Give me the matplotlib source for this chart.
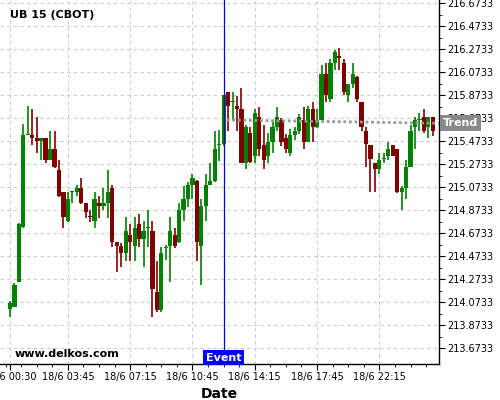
import numpy as np
import matplotlib
matplotlib.use("Agg")
import matplotlib.pyplot as plt
from matplotlib.ticker import FixedLocator

# 15-minute candles, index 0 = 18/6 00:30
opens = [214.014, 214.037, 214.254, 214.727, 215.530, 215.530, 215.506, 215.475, 215.506, 215.315,
         215.408, 215.225, 215.034, 214.785, 215.037, 215.037, 215.069, 214.941, 214.825, 214.785,
         214.941, 214.915, 214.941, 215.069, 214.602, 214.567, 214.506, 214.660, 214.567, 214.753,
         214.628, 214.724, 214.695, 214.162, 214.008, 214.545, 214.567, 214.660, 214.602, 214.878,
         214.971, 215.095, 215.130, 214.567, 214.912, 215.095, 215.130, 215.445, 215.449, 215.901,
         215.819, 215.782, 215.756, 215.289, 215.545, 215.350, 215.686, 215.440, 215.350, 215.472,
         215.597, 215.660, 215.504, 215.376, 215.532, 215.565, 215.660, 215.472, 215.753, 215.602,
         215.660, 216.060, 215.843, 216.153, 216.219, 216.153, 215.880, 215.973, 216.032, 215.817,
         215.565, 215.443, 215.284, 215.232, 215.319, 215.350, 215.443, 215.408, 215.037, 215.072,
         215.254, 215.602, 215.663, 215.686, 215.602, 215.686]
highs = [214.089, 214.245, 214.762, 215.623, 215.782, 215.753, 215.684, 215.506, 215.506, 215.565,
         215.565, 215.310, 215.034, 215.032, 215.043, 215.095, 215.153, 214.941, 214.878, 215.032,
         214.999, 215.072, 215.223, 215.095, 214.602, 214.593, 214.814, 214.753, 214.814, 214.843,
         214.782, 214.875, 214.782, 214.437, 214.558, 214.573, 214.814, 214.718, 214.936, 215.089,
         215.124, 215.188, 215.139, 214.971, 215.188, 215.286, 215.565, 215.573, 215.878, 215.901,
         215.901, 215.872, 215.936, 215.617, 215.597, 215.753, 215.776, 215.617, 215.545, 215.660,
         215.776, 215.680, 215.536, 215.579, 215.597, 215.712, 215.776, 215.782, 215.814, 215.756,
         216.138, 216.153, 216.188, 216.269, 216.284, 216.188, 215.973, 216.153, 216.043, 215.817,
         215.597, 215.443, 215.284, 215.371, 215.371, 215.472, 215.443, 215.408, 215.089, 215.312,
         215.617, 215.684, 215.718, 215.753, 215.686, 215.686]
lows = [213.945, 214.031, 214.249, 214.718, 215.527, 215.443, 215.371, 215.312, 215.284, 215.310,
        215.245, 214.993, 214.718, 214.776, 214.936, 215.002, 214.930, 214.811, 214.776, 214.718,
        214.811, 214.878, 214.811, 214.558, 214.341, 214.379, 214.437, 214.437, 214.437, 214.558,
        214.379, 214.558, 213.945, 213.993, 213.993, 214.443, 214.249, 214.545, 214.588, 214.782,
        214.906, 214.971, 214.437, 214.225, 214.782, 215.095, 215.124, 215.306, 215.434, 215.565,
        215.660, 215.565, 215.289, 215.232, 215.289, 215.289, 215.350, 215.232, 215.289, 215.371,
        215.565, 215.434, 215.371, 215.347, 215.486, 215.536, 215.411, 215.472, 215.472, 215.591,
        215.660, 215.819, 215.814, 216.095, 216.095, 215.878, 215.814, 215.936, 215.814, 215.565,
        215.252, 215.032, 215.032, 215.191, 215.284, 215.312, 215.350, 215.023, 214.878, 214.973,
        215.254, 215.405, 215.565, 215.550, 215.501, 215.524]
closes = [214.066, 214.225, 214.756, 215.530, 215.539, 215.506, 215.475, 215.506, 215.315, 215.408,
          215.254, 215.002, 214.819, 214.973, 215.043, 215.069, 214.941, 214.858, 214.819, 214.973,
          214.915, 214.941, 215.034, 214.602, 214.567, 214.506, 214.695, 214.602, 214.721, 214.628,
          214.695, 214.727, 214.191, 214.008, 214.504, 214.547, 214.695, 214.567, 214.878, 214.971,
          215.095, 215.153, 214.602, 214.912, 215.095, 215.130, 215.408, 215.449, 215.878, 215.785,
          215.823, 215.756, 215.289, 215.597, 215.298, 215.718, 215.411, 215.312, 215.472, 215.597,
          215.686, 215.472, 215.411, 215.527, 215.565, 215.686, 215.472, 215.753, 215.602, 215.660,
          216.060, 215.878, 216.153, 216.249, 216.197, 215.906, 215.973, 216.060, 215.845, 215.602,
          215.449, 215.319, 215.232, 215.312, 215.321, 215.408, 215.350, 215.037, 215.072, 215.254,
          215.565, 215.660, 215.666, 215.565, 215.686, 215.565]

tick_pos = [0, 13, 27, 41, 55, 69, 83]
tick_labels = ["18/6 00:30", "18/6 03:45", "18/6 07:15", "18/6 10:45",
               "18/6 14:15", "18/6 17:45", "18/6 22:15"]
y_ticks = [213.6733 + 0.2 * k for k in range(16)]

event_idx = 48
trend_x = [48.7, 96.4]
trend_y = [215.660, 215.632]

fig = plt.figure(figsize=(5, 4), dpi=100)
ax = fig.add_axes([0, 0.09, 0.878, 0.91])

green = "#008000"
red = "#800000"
for i, (o, h, l, c) in enumerate(zip(opens, highs, lows, closes)):
    col = green if c >= o else red
    ax.vlines(i, l, h, color=col, lw=1.2, zorder=2)
    ax.bar(i, max(abs(c - o), 0.009), bottom=min(o, c), width=0.95, color=col, lw=0, zorder=3)

ax.plot(trend_x, trend_y, color="#999999", lw=2, ls=(0, (1, 1)), zorder=4)
ax.axvline(event_idx, color="#0000ee", lw=0.9, zorder=5)

ax.set_xlim(-2.25, 96.4)
ax.set_ylim(213.5385, 216.7037)

ax.set_xticks(tick_pos)
ax.set_xticklabels(tick_labels)
ax.xaxis.set_minor_locator(FixedLocator(np.arange(-1, 97, 3.5)))
ax.yaxis.tick_right()
ax.set_yticks(y_ticks)
ax.set_yticklabels(["%.4f" % v for v in y_ticks])
ax.yaxis.set_minor_locator(FixedLocator([v + 0.1 for v in y_ticks]))
ax.tick_params(which="major", direction="out", length=4, width=0.8, labelsize=7, pad=2)
ax.tick_params(which="minor", direction="out", length=2, width=0.6)

for s in ["left", "top"]:
    ax.spines[s].set_visible(False)
for s in ["right", "bottom"]:
    ax.spines[s].set_linewidth(1)

ax.set_axisbelow(True)
ax.grid(True, which="major", color="#cccccc", lw=0.8, ls=(0, (3, 3)))

ax.set_xlabel("Date", fontsize=10, fontweight="bold", labelpad=3)

ax.text(0.023, 0.959, "UB 15 (CBOT)", transform=ax.transAxes, fontsize=8,
        fontweight="bold", va="center", ha="left")
ax.text(0.034, 0.028, "www.delkos.com", transform=ax.transAxes, fontsize=8,
        fontweight="bold", va="center", ha="left")

ax.annotate("Event", xy=(event_idx, 0.004), xycoords=("data", "axes fraction"),
            ha="center", va="bottom", color="white", fontsize=8, fontweight="bold",
            bbox=dict(boxstyle="square,pad=0.25", fc="#0000ff", ec="none"), zorder=6)
ax.annotate("Trend", xy=(1.008, trend_y[1]), xycoords=("axes fraction", "data"),
            ha="left", va="center", color="white", fontsize=8, fontweight="bold",
            bbox=dict(boxstyle="square,pad=0.25", fc="#888888", ec="none"),
            annotation_clip=False, zorder=6)

fig.savefig("out.png", dpi=100)
